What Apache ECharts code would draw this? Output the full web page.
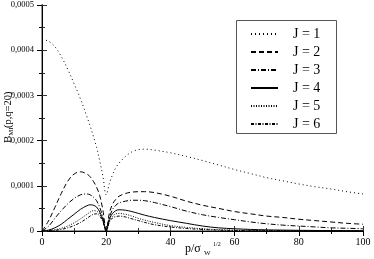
<!DOCTYPE html>
<html><head><meta charset="utf-8">
<script src="https://cdn.jsdelivr.net/npm/echarts@6/dist/echarts.min.js"></script>
<style>html,body{margin:0;padding:0;background:#fff}#c{width:374px;height:259px}</style>
</head><body><div id="c"></div>
<script>
// x values: p / sigma_W^(1/2)
const xs = [0,2,4,6,8,10,12,14,15,16,17,18,19,20,21,22,23,24,26,28,30,32,35,40,45,50,55,60,65,70,75,80,85,90,95,100];
// B_MI(p,q=20) in units of 1e-4
const J1 = [4.24,4.2,4.08,3.86,3.58,3.26,2.92,2.53,2.32,2.1,1.85,1.55,1.2,0.8,1.05,1.25,1.4,1.5,1.65,1.75,1.8,1.81,1.79,1.73,1.65,1.56,1.46,1.36,1.27,1.18,1.11,1.04,0.98,0.93,0.87,0.82];
const J2 = [0,0.22,0.52,0.83,1.1,1.26,1.31,1.26,1.2,1.1,0.97,0.78,0.45,0.02,0.4,0.6,0.7,0.77,0.83,0.86,0.87,0.87,0.85,0.77,0.66,0.57,0.5,0.43,0.38,0.33,0.3,0.26,0.23,0.2,0.17,0.15];
const J3 = [0,0.1,0.28,0.45,0.6,0.72,0.8,0.82,0.8,0.75,0.67,0.52,0.3,0,0.3,0.48,0.57,0.62,0.66,0.68,0.68,0.67,0.63,0.54,0.44,0.36,0.3,0.25,0.2,0.16,0.13,0.11,0.09,0.07,0.06,0.05];
const J4 = [0,0.02,0.07,0.15,0.26,0.37,0.48,0.56,0.58,0.57,0.53,0.42,0.25,0,0.27,0.39,0.45,0.47,0.46,0.43,0.39,0.35,0.3,0.23,0.17,0.11,0.07,0.05,0.035,0.025,0.02,0.015,0.012,0.01,0.008,0.006];
const J5 = [0,0.01,0.03,0.06,0.11,0.18,0.27,0.37,0.42,0.45,0.44,0.37,0.22,0,0.22,0.33,0.38,0.39,0.37,0.33,0.28,0.24,0.19,0.12,0.08,0.05,0.03,0.02,0.015,0.01,0.008,0.006,0.005,0.004,0.003,0.002];
const J6 = [0,0.005,0.015,0.035,0.07,0.12,0.19,0.28,0.33,0.37,0.38,0.33,0.2,0,0.2,0.29,0.32,0.33,0.31,0.27,0.23,0.19,0.14,0.09,0.055,0.035,0.02,0.012,0.008,0.005,0.004,0.003,0.002,0.002,0.001,0.001];
const seriesNames = ['J = 1','J = 2','J = 3','J = 4','J = 5','J = 6'];
const xTicks = [0,20,40,60,80,100];
const yTicks = ['0','0,0001','0,0002','0,0003','0,0004','0,0005'];
const SCALE = 1e-4;

const dashes = [[1,3],[5,3],[5,2,1,2],'solid',[1,1.5],[3,1.5,1,1.5]];
const all = [J1,J2,J3,J4,J5,J6];
const SERIF = '"Liberation Serif", "DejaVu Serif", serif';

const series = all.map((arr,i)=>({
  name: seriesNames[i], type:'line', xAxisIndex:0, yAxisIndex:0,
  data: xs.map((x,k)=>[x, arr[k]*SCALE]),
  symbol:'none', smooth:0.35, clip:true, silent:true,
  itemStyle:{color:'#000', opacity:0},
  lineStyle:{color:'#000', width:1, type:dashes[i]}
}));

const chart = echarts.init(document.getElementById('c'), null, {renderer:'canvas'});
const axBase = {min:0, max:100, interval:20};
chart.setOption({
  animation:false,
  backgroundColor:'#fff',
  color:['#000'],
  grid:{left:42, top:5, width:321, height:226, containLabel:false},
  xAxis:[
    {type:'value', position:'bottom', ...axBase,
     axisLine:{lineStyle:{color:'#999', width:2}},
     axisTick:{inside:true, length:5, lineStyle:{color:'#333'}},
     minorTick:{show:true, splitNumber:2, length:3, lineStyle:{color:'#333'}},
     splitLine:{show:false},
     axisLabel:{margin:6, color:'#000', fontFamily:SERIF, fontSize:10,
       formatter:v=>xTicks.includes(v)?String(v):''}},
    {type:'value', position:'top', ...axBase,
     axisLine:{lineStyle:{color:'#000', width:1}},
     axisTick:{inside:true, length:5, lineStyle:{color:'#000'}},
     minorTick:{show:true, splitNumber:2, length:3, lineStyle:{color:'#000'}},
     splitLine:{show:false}, axisLabel:{show:false}}
  ],
  yAxis:[
    {type:'value', position:'left', min:0, max:5*SCALE, interval:SCALE,
     axisLine:{show:true, lineStyle:{color:'#999', width:2}},
     axisTick:{show:true, inside:true, length:5, lineStyle:{color:'#333'}},
     minorTick:{show:true, splitNumber:2, length:3, lineStyle:{color:'#333'}},
     splitLine:{show:false},
     axisLabel:{margin:8, color:'#000', fontFamily:SERIF, fontSize:8.5,
       formatter:v=>yTicks[Math.round(v/SCALE)]}},
    {type:'value', position:'right', min:0, max:5*SCALE, interval:SCALE,
     axisLine:{show:true, lineStyle:{color:'#000', width:1}},
     axisTick:{show:true, inside:true, length:5, lineStyle:{color:'#000'}},
     minorTick:{show:true, splitNumber:2, length:3, lineStyle:{color:'#000'}},
     splitLine:{show:false}, axisLabel:{show:false}}
  ],
  legend:{
    left:250, top:27, orient:'vertical',
    padding:0, itemGap:4, itemWidth:27, itemHeight:14,
    itemStyle:{opacity:0},
    textStyle:{fontFamily:SERIF, fontSize:14, color:'#000', lineHeight:14, padding:[0,0,0,10]},
    data: seriesNames,
    selectedMode:false
  },
  graphic:[
    {type:'rect', shape:{x:236.5, y:20.5, width:100, height:113}, style:{fill:'none', stroke:'#555', lineWidth:1}, z:10},
    {type:'text', left:185, top:243, style:{text:'p/σ', font:'12px '+SERIF, fill:'#000'}},
    {type:'text', left:204, top:250, style:{text:'W', font:'7px '+SERIF, fill:'#000'}},
    {type:'text', left:213, top:241, style:{text:'1/2', font:'6px '+SERIF, fill:'#000'}},
    {type:'group', x:3, y:143, rotation:Math.PI/2, children:[
      {type:'text', x:0, y:0, style:{text:'B', font:'11px '+SERIF, fill:'#000'}},
      {type:'text', x:7.5, y:5, style:{text:'MI', font:'6.5px '+SERIF, fill:'#000'}},
      {type:'text', x:15, y:0, style:{text:'(p,q=20)', font:'10.5px '+SERIF, fill:'#000'}}
    ]}
  ],
  series
});
</script></body></html>
